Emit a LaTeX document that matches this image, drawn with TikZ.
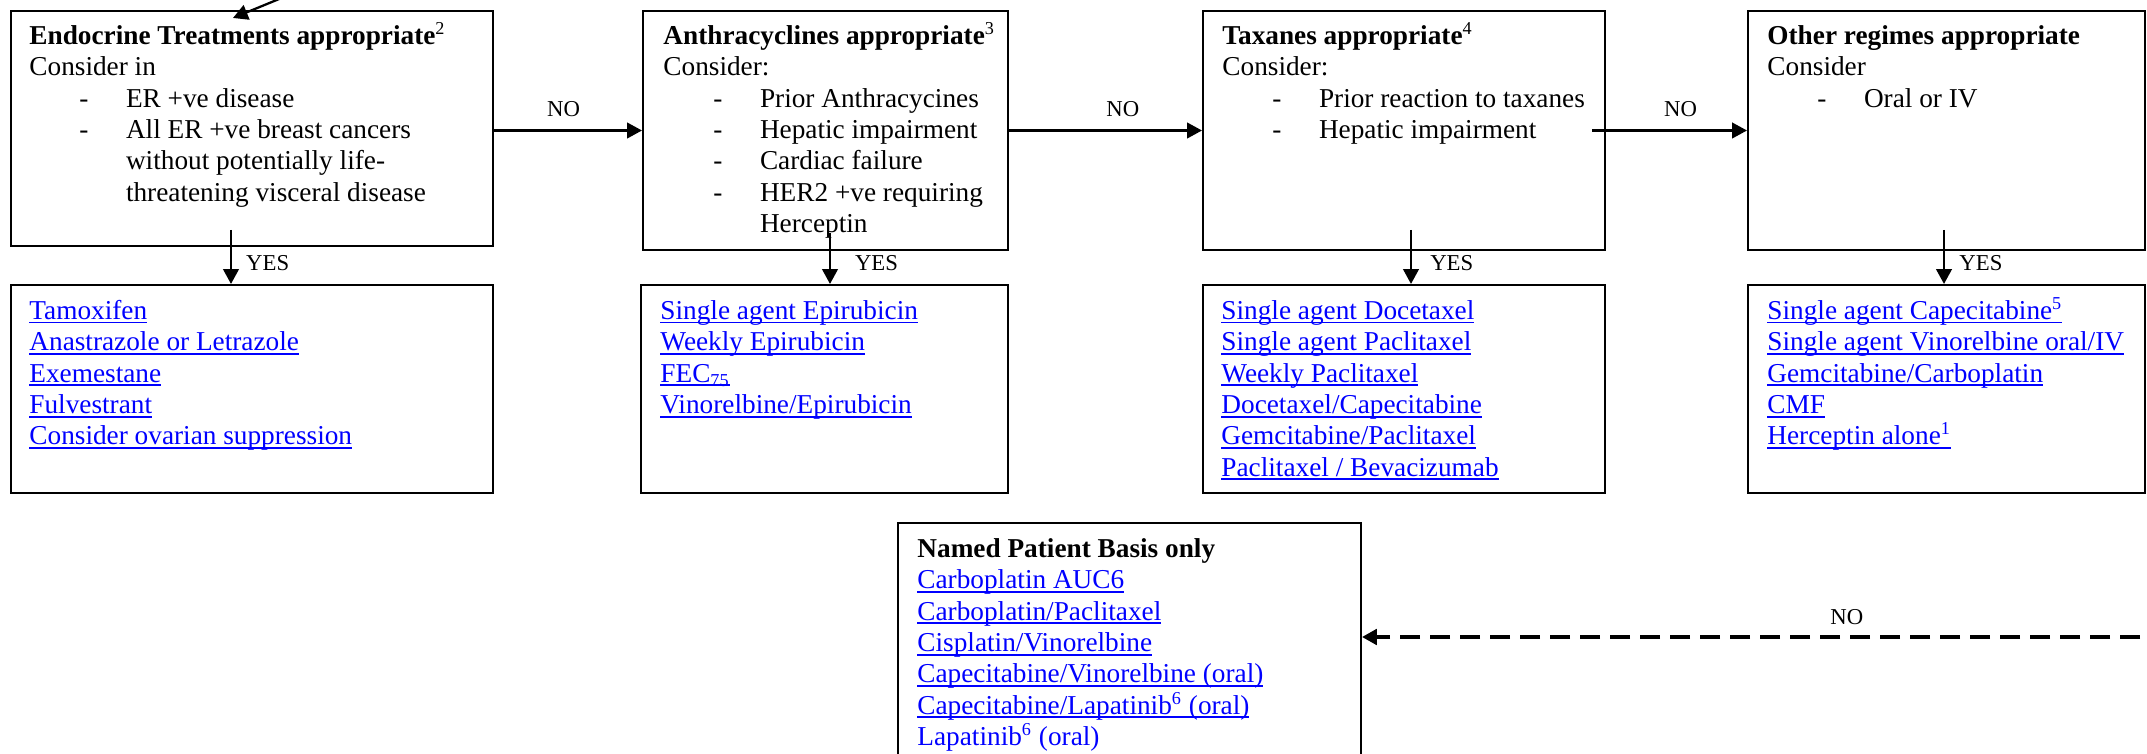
\documentclass[tikz,border=0pt]{standalone}
\usepackage{fontspec}
\setmainfont{Liberation Serif}
\usetikzlibrary{arrows.meta,fit}
\definecolor{linkblue}{RGB}{0,0,255}
\newsavebox{\drugbox}
\newcommand{\drug}[1]{\textcolor{linkblue}{\sbox{\drugbox}{#1}\rlap{\rule[-1.8pt]{\wd\drugbox}{0.8pt}}\usebox{\drugbox}}}
\newcommand{\dashitem}[1]{\makebox[42.5pt][l]{\hspace{22pt}-}#1}
\newcommand{\dashcont}[1]{\hspace*{42.5pt}#1}
\newcommand{\fn}[1]{\textsuperscript{\mdseries #1}}
\tikzset{every picture/.style={x=0.44pt,y=-0.44pt}}
\tikzset{box/.style={draw,line width=0.9pt,inner sep=0pt}}
\tikzset{txt/.style={anchor=north west,inner sep=0pt,align=left,font=\fontsize{12}{13.8}\selectfont}}
\tikzset{arr/.style={line width=1pt,-{Triangle[length=6.5pt,width=6.8pt]}}}
\tikzset{lbl/.style={inner sep=0pt,font=\fontsize{10}{12}\selectfont}}
\tikzset{nolink/.style={dash pattern=on 9pt off 4.2pt,line width=1.5pt}}

\begin{document}
\begin{tikzpicture}
\useasboundingbox (0,0) rectangle (2147,754);
\node[box,fit={(11,11) (493,246)}] (endo) {};
\node[box,fit={(643,11) (1008,250)}] (anthra) {};
\node[box,fit={(1203,11) (1605,250)}] (taxane) {};
\node[box,fit={(1748,11) (2145,250)}] (other) {};
\node[box,fit={(11,285) (493,493)}] (endolist) {};
\node[box,fit={(641,285) (1008,493)}] (anthralist) {};
\node[box,fit={(1203,285) (1605,493)}] (taxanelist) {};
\node[box,fit={(1748,285) (2145,493)}] (otherlist) {};
\node[box,fit={(898,523) (1361,790)}] (named) {};

\node[txt] (endotxt) at ([shift={(19,12)}]endo.north west) {\strut\textbf{Endocrine Treatments appropriate}\fn{2}\\
  Consider in\\
  \dashitem{ER +ve disease}\\
  \dashitem{All ER +ve breast cancers}\\
  \dashcont{without potentially life-}\\
  \dashcont{threatening visceral disease}};
\node[txt] (anthratxt) at ([shift={(21,12)}]anthra.north west) {\strut\textbf{Anthracyclines appropriate}\fn{3}\\
  Consider:\\
  \dashitem{Prior Anthracycines}\\
  \dashitem{Hepatic impairment}\\
  \dashitem{Cardiac failure}\\
  \dashitem{HER2 +ve requiring}\\
  \dashcont{Herceptin}};
\node[txt] (taxanetxt) at ([shift={(20,12)}]taxane.north west) {\strut\textbf{Taxanes appropriate}\fn{4}\\
  Consider:\\
  \dashitem{Prior reaction to taxanes}\\
  \dashitem{Hepatic impairment}};
\node[txt] (othertxt) at ([shift={(20,12)}]other.north west) {\strut\textbf{Other regimes appropriate}\\
  Consider\\
  \dashitem{Oral or IV}};

\node[txt] (endolisttxt) at ([shift={(19,13)}]endolist.north west) {\strut\drug{Tamoxifen}\\
  \drug{Anastrazole or Letrazole}\\
  \drug{Exemestane}\\
  \drug{Fulvestrant}\\
  \drug{Consider ovarian suppression}};
\node[txt] (anthralisttxt) at ([shift={(20,13)}]anthralist.north west) {\strut\drug{Single agent Epirubicin}\\
  \drug{Weekly Epirubicin}\\
  \drug{FEC\textsubscript{75}}\\
  \drug{Vinorelbine/Epirubicin}};
\node[txt] (taxanelisttxt) at ([shift={(19,13)}]taxanelist.north west) {\strut\drug{Single agent Docetaxel}\\
  \drug{Single agent Paclitaxel}\\
  \drug{Weekly Paclitaxel}\\
  \drug{Docetaxel/Capecitabine}\\
  \drug{Gemcitabine/Paclitaxel}\\
  \drug{Paclitaxel / Bevacizumab}};
\node[txt] (otherlisttxt) at ([shift={(20,13)}]otherlist.north west) {\strut\drug{Single agent Capecitabine\fn{5}}\\
  \drug{Single agent Vinorelbine oral/IV}\\
  \drug{Gemcitabine/Carboplatin}\\
  \drug{CMF}\\
  \drug{Herceptin alone\fn{1}}};
\node[txt] (namedtxt) at ([shift={(20,13)}]named.north west) {\strut\textbf{Named Patient Basis only}\\
  \drug{Carboplatin AUC6}\\
  \drug{Carboplatin/Paclitaxel}\\
  \drug{Cisplatin/Vinorelbine}\\
  \drug{Capecitabine/Vinorelbine (oral)}\\
  \drug{Capecitabine/Lapatinib\fn{6} (oral)}\\
  \textcolor{linkblue}{Lapatinib\fn{6} (oral)}};

\coordinate (feed) at (284,-3);
\draw[arr] (feed) -- ([shift={(-19,8)}]endo.north);

\draw[arr] (endo.east |- anthra.west) -- (anthra.west) node[lbl,above=5.5pt,pos=.47] {NO};
\draw[arr] (anthra.east) -- (taxane.west) node[lbl,above=5.5pt,pos=.59] {NO};
\draw[arr] ([xshift=-6]taxane.east) -- (other.west) node[lbl,above=5.5pt,pos=.57] {NO};

\coordinate (endoyes) at (231,230);
\coordinate (anthrayes) at (830,233);
\coordinate (taxaneyes) at (1411,230);
\coordinate (otheryes) at (1944,230);
\draw[arr] (endoyes) -- (endoyes |- endolist.north) node[lbl,right=6.2pt,pos=.62] {YES};
\draw[arr] (anthrayes) -- (anthrayes |- anthralist.north) node[lbl,right=10.5pt,pos=.6] {YES};
\draw[arr] (taxaneyes) -- (taxaneyes |- taxanelist.north) node[lbl,right=8pt,pos=.62] {YES};
\draw[arr] (otheryes) -- (otheryes |- otherlist.north) node[lbl,right=6.3pt,pos=.62] {YES};

\coordinate (nofrom) at (2170,637);
\draw[arr,nolink] (nofrom) -- (nofrom -| named.east) node[lbl,above=4.6pt,pos=.40] {NO};
\end{tikzpicture}
\end{document}
